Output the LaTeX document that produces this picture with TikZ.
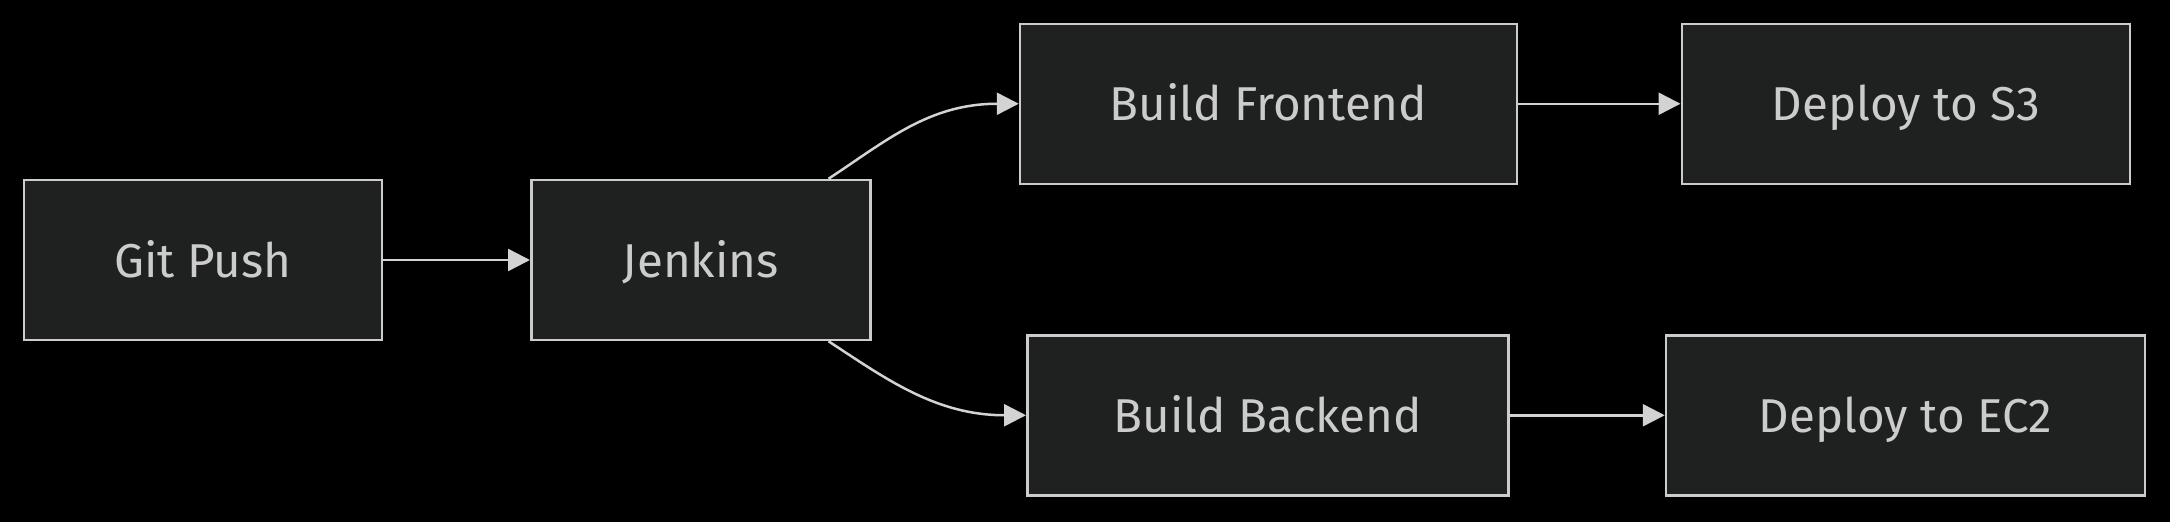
\documentclass[tikz,border=0pt]{standalone}
\usepackage{fontspec}
\setmainfont{Fira Sans}
\usetikzlibrary{arrows.meta,calc}
\definecolor{nodefill}{HTML}{1F2020}
\definecolor{nodeborder}{HTML}{CCCCCC}
\definecolor{edgecol}{HTML}{D3D3D3}
\tikzset{
  box/.style={draw=nodeborder, fill=nodefill, line width=2.5pt, text=nodeborder,
    font=\fontsize{47.5}{52}\selectfont, inner sep=0pt, minimum height=160pt, anchor=center,
    text height=35pt, text depth=1pt},
  link/.style={draw=edgecol, line width=2.5pt, -{Triangle[length=22pt,width=22pt]}}
}
\begin{document}
\begin{tikzpicture}[x=1pt,y=1pt]
\fill[black] (0,0) rectangle (2170,-522);
\useasboundingbox (0,0) rectangle (2170,-522);
\node[box, minimum width=358pt] (gp) at (202.75,-260) {Git Push};
\node[box, minimum width=339pt] (jk) at (700.75,-260) {Jenkins};
\node[box, minimum width=497pt] (bf) at (1268.5,-103.75) {Build Frontend};
\node[box, minimum width=448pt] (s3) at (1905.75,-103.75) {Deploy to S3};
\node[box, minimum width=481pt] (bb) at (1267.75,-415.25) {Build Backend};
\node[box, minimum width=479pt] (ec2) at (1905.5,-415.25) {Deploy to EC2};
\draw[link] (gp) -- (jk);
\draw[link] ([xshift=-43pt]jk.north east) .. controls +(58pt,38pt) and +(-90pt,0pt) .. (bf.west);
\draw[link] ([xshift=-43pt]jk.south east) .. controls +(58pt,-38pt) and +(-90pt,0pt) .. (bb.west);
\draw[link] (bf) -- (s3);
\draw[link] (bb) -- (ec2);
\end{tikzpicture}
\end{document}
